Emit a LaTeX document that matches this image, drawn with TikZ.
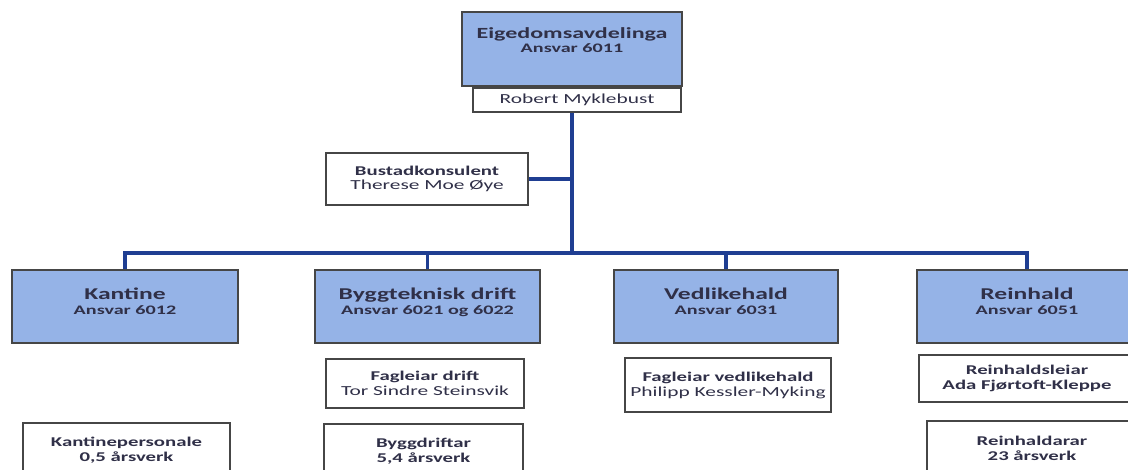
\documentclass[tikz,border=0pt]{standalone}
\usepackage{fontspec}
\setmainfont{Carlito}[FakeStretch=1.55]
\usepackage{xcolor}
\definecolor{deptblue}{RGB}{149, 179, 231}
\definecolor{linkblue}{RGB}{31, 62, 146}
\definecolor{edgegrey}{RGB}{70, 70, 70}
\definecolor{inkgrey}{RGB}{48, 48, 72}
\newcommand\chiefsize{\fontsize{15.5}{14}\selectfont\bfseries}
\newcommand\codesize{\fontsize{13}{14}\selectfont\bfseries}
\newcommand\deptsize{\fontsize{16.5}{18}\selectfont\bfseries}
\newcommand\rolesize{\fontsize{13.4}{14}\selectfont\bfseries}
\newcommand\namesize{\fontsize{13.8}{14}\selectfont\mdseries}

\begin{document}
\begin{tikzpicture}[x=1pt,y=-1pt,
  dept/.style={draw=edgegrey, line width=1.4pt, fill=deptblue,
    align=center, text=inkgrey, inner sep=0pt, text depth=11pt,
    minimum width=224pt, minimum height=73pt},
  note/.style={draw=edgegrey, line width=1.2pt, fill=white,
    align=center, text=inkgrey, inner sep=0pt,
    minimum height=50pt},
  link/.style={draw=linkblue, line width=3.2pt}]
\useasboundingbox
  (0,0) rectangle (1128,470);

% leiing
\node[dept, minimum width=220pt, minimum height=74pt, text depth=18pt]
  (chief) at (572,49)
  {\chiefsize Eigedomsavdelinga\\[2pt] \codesize Ansvar 6011};
\node[note, minimum width=208pt, minimum height=24pt] (leiar) at (577,100)
  {\namesize Robert Myklebust};
\node[note, minimum width=202pt, minimum height=52pt] (bustad) at (427,179)
  {\rolesize Bustadkonsulent\\[2pt] \namesize Therese Moe Øye};

% avdelingar
\node[dept, minimum width=226pt] (kantine) at (125,306.5)
  {\deptsize Kantine\\[3pt] \codesize Ansvar 6012};
\node[dept, minimum width=225pt] (bygg) at (427.5,306.5)
  {\deptsize Byggteknisk drift\\[3pt] \codesize Ansvar 6021 og 6022};
\node[dept] (vedlikehald) at (726,306.5)
  {\deptsize Vedlikehald\\[3pt] \codesize Ansvar 6031};
\node[dept, minimum width=220pt] (reinhald) at (1027,306.5)
  {\deptsize Reinhald\\[3pt] \codesize Ansvar 6051};

% tilsette
\node[note, minimum width=198pt, minimum height=49pt] (fagdrift) at (425,383.5)
  {\rolesize Fagleiar drift\\[3pt] \namesize Tor Sindre Steinsvik};
\node[note, minimum width=199pt, minimum height=54pt] (byggdriftar) at (423.5,451)
  {\rolesize Byggdriftar\\[3pt] \rolesize 5,4 årsverk};
\node[note, minimum width=207pt, minimum height=54pt] (kantinefolk) at (126.5,450)
  {\rolesize Kantinepersonale\\[3pt] \rolesize 0,5 årsverk};
\node[note, minimum width=206pt, minimum height=54pt] (fagvedl) at (728,385)
  {\rolesize Fagleiar vedlikehald\\[3pt] \namesize Philipp Kessler-Myking};
\node[note, minimum width=216pt, minimum height=47pt] (reinleiar) at (1027,378.5)
  {\rolesize Reinhaldsleiar\\[3pt] \rolesize Ada Fjørtoft-Kleppe};
\node[note, minimum width=210pt, minimum height=54pt] (reinarar) at (1032,448)
  {\rolesize Reinhaldarar\\[3pt] \rolesize 23 årsverk};

% linjer
\coordinate (bus) at (572,253);
\draw[link] (bus |- leiar.south) -- (bus);
\draw[link] (bustad.east) -- (bustad.east -| bus);
\foreach \n in {kantine,bygg,vedlikehald,reinhald}
  \draw[link] (\n.north) |- (bus);
\end{tikzpicture}
\end{document}
